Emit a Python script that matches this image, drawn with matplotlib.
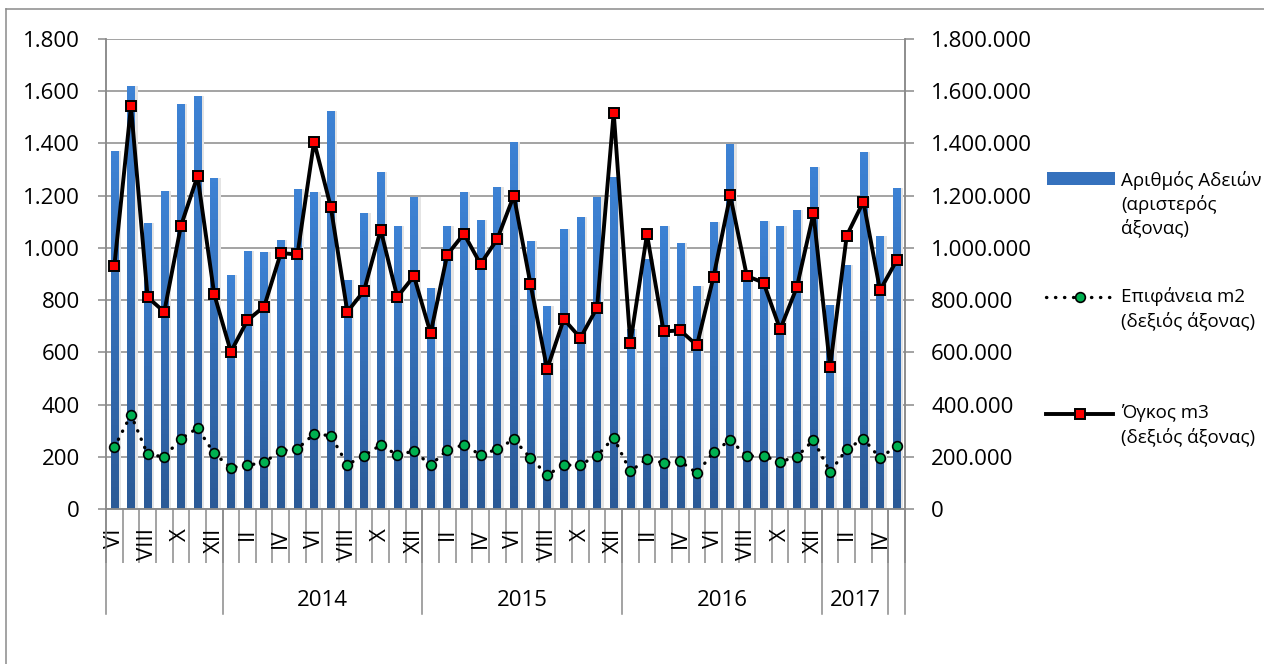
import numpy as np
import matplotlib.pyplot as plt
import matplotlib.transforms as mtransforms
from matplotlib.lines import Line2D
from matplotlib.patches import Rectangle
from matplotlib.ticker import FuncFormatter, MultipleLocator
from matplotlib.colors import LinearSegmentedColormap

plt.rcParams['font.family'] = ['Open Sans', 'DejaVu Sans']

# months VI 2013 .. V 2017
roman = ['I', 'II', 'III', 'IV', 'V', 'VI', 'VII', 'VIII', 'IX', 'X', 'XI', 'XII']
months = roman[5:] + roman * 3 + roman[:5]

group_labels = ['', '2014', '2015', '2016', '2017', '']
group_sizes = [7, 12, 12, 12, 4, 1]

# number of permits (left axis)
permits = [1372, 1620, 1095, 1218, 1552, 1582, 1268,
           896, 988, 984, 1030, 1226, 1214, 1524, 877, 1134, 1291, 1084, 1196,
           846, 1084, 1214, 1107, 1233, 1406, 1026, 777, 1072, 1118, 1195, 1272,
           689, 957, 1084, 1019, 854, 1099, 1399, 895, 1103, 1084, 1145, 1310,
           781, 934, 1367, 1046, 1230]

# surface m2, thousands (right axis)
surface_k = [236, 361, 209, 200, 269, 310, 213,
             158, 167, 179, 222, 231, 287, 281, 170, 204, 245, 207, 222,
             168, 226, 246, 207, 229, 267, 195, 131, 167, 170, 204, 273,
             144, 193, 176, 183, 137, 218, 264, 203, 203, 181, 200, 264,
             142, 229, 269, 195, 242]

# volume m3, thousands (right axis)
volume_k = [930, 1542, 811, 755, 1084, 1275, 823,
            602, 723, 775, 980, 975, 1407, 1158, 755, 836, 1069, 812, 892,
            673, 974, 1054, 938, 1033, 1200, 862, 536, 727, 655, 771, 1518,
            635, 1052, 680, 684, 627, 890, 1201, 892, 867, 688, 849, 1132,
            544, 1047, 1177, 838, 952]

W, H = 1264, 664
gray = '#8a8a8a'
PT = 0.72  # points per pixel at dpi 100

fig = plt.figure(figsize=(W / 100, H / 100), dpi=100)
ax = fig.add_axes([106 / W, 1 - 509 / H, (905 - 106) / W, 470 / H])

x = np.arange(len(permits)) + 0.5

# soft shadow behind the bars
ax.bar(x + 0.12, permits, width=0.55, color='#e4e4e4', zorder=1)
bars = ax.bar(x, permits, width=0.45, color='none', zorder=2)
cmap = LinearSegmentedColormap.from_list('blue', ['#2b5a97', '#3d82d4'])
grad = np.linspace(0, 1, 64).reshape(-1, 1)
for r in bars:
    x0, w, h = r.get_x(), r.get_width(), r.get_height()
    im = ax.imshow(grad, extent=[x0, x0 + w, 0, h], origin='lower',
                   aspect='auto', cmap=cmap, zorder=2)
    im.set_clip_path(r)

ax.set_xlim(0, len(permits))
ax.set_ylim(0, 1800)
ax.yaxis.set_major_locator(MultipleLocator(200))
ax.yaxis.set_major_formatter(FuncFormatter(lambda v, p: f"{int(v):,}".replace(',', '.')))
ax.yaxis.grid(True, color=gray, lw=1.1)
ax.set_axisbelow(True)

ax2 = ax.twinx()
ax2.plot(x, np.array(surface_k) * 1000, color='black', lw=2.4,
         linestyle=(0, (0.1, 2.6)), dash_capstyle='round',
         marker='o', ms=7, mfc='#00b050', mec='black', mew=1.2, zorder=3)
ax2.plot(x, np.array(volume_k) * 1000, color='black', lw=2.8,
         marker='s', ms=7.5, mfc='#ff0000', mec='black', mew=1.4, zorder=4)
ax2.set_ylim(0, 1800000)
ax2.yaxis.set_major_locator(MultipleLocator(200000))
ax2.yaxis.set_major_formatter(FuncFormatter(lambda v, p: f"{int(v):,}".replace(',', '.')))

for a in (ax, ax2):
    a.spines['top'].set_visible(False)
    for s in ('left', 'right', 'bottom'):
        a.spines[s].set_color(gray)
        a.spines[s].set_linewidth(1.1)

ax.tick_params(axis='y', length=8 * PT, width=1.1, color=gray, pad=18 * PT, labelsize=16)
ax2.tick_params(axis='y', length=9 * PT, width=1.1, color=gray, pad=17 * PT, labelsize=16)

# category axis: boundary ticks + month labels
ax.set_xticks(np.arange(len(permits) + 1))
ax.set_xticklabels([])
ax.tick_params(axis='x', which='major', length=54 * PT, width=1.1, color=gray)
ax.set_xticks(x, minor=True)
ax.set_xticklabels([m if i % 2 == 0 else '' for i, m in enumerate(months)],
                   minor=True, rotation=90, fontsize=16)
ax.tick_params(axis='x', which='minor', length=0, pad=19 * PT)

trans = mtransforms.blended_transform_factory(ax.transData, ax.transAxes)
bounds = np.cumsum([0] + group_sizes)
for b in bounds:
    ax.plot([b, b], [0, -105 / 470], transform=trans, color=gray, lw=1.1, clip_on=False)
for i, lab in enumerate(group_labels):
    ax.text((bounds[i] + bounds[i + 1]) / 2, -(600 - 509) / 470, lab,
            transform=trans, ha='center', va='center', fontsize=16)

# outer chart border
fig.add_artist(Line2D([6 / W, 6 / W], [0, 1 - 9 / H], color=gray, lw=1.1))
fig.add_artist(Line2D([6 / W, 1], [1 - 9 / H, 1 - 9 / H], color=gray, lw=1.1))

# legend
def fx(px):
    return px / W

def fy(py):
    return 1 - py / H

fig.add_artist(Rectangle((fx(1047), fy(185)), 68 / W, 13 / H,
                         transform=fig.transFigure, facecolor='#3571bd', edgecolor='none'))
fig.add_artist(Line2D([fx(1046), fx(1080), fx(1113)], [fy(297)] * 3, color='black', lw=2.4,
                      linestyle=(0, (0.1, 2.6)), dash_capstyle='round', marker='o', markevery=[1],
                      ms=7, mfc='#00b050', mec='black', mew=1.2))
fig.add_artist(Line2D([fx(1046), fx(1080), fx(1113)], [fy(414)] * 3, color='black', lw=2.8,
                      marker='s', markevery=[1], ms=7.5, mfc='#ff0000', mec='black', mew=1.4))

legend_lines = [
    (180, 'Αριθμός Αδειών'), (204, '(αριστερός'), (228, 'άξονας)'),
    (297, 'Επιφάνεια m2'), (321, '(δεξιός άξονας)'),
    (413, 'Όγκος m3'), (437, '(δεξιός άξονας)'),
]
for py, t in legend_lines:
    fig.text(fx(1121), fy(py), t, ha='left', va='center', fontsize=13.5)

fig.savefig('out.png', dpi=100)
